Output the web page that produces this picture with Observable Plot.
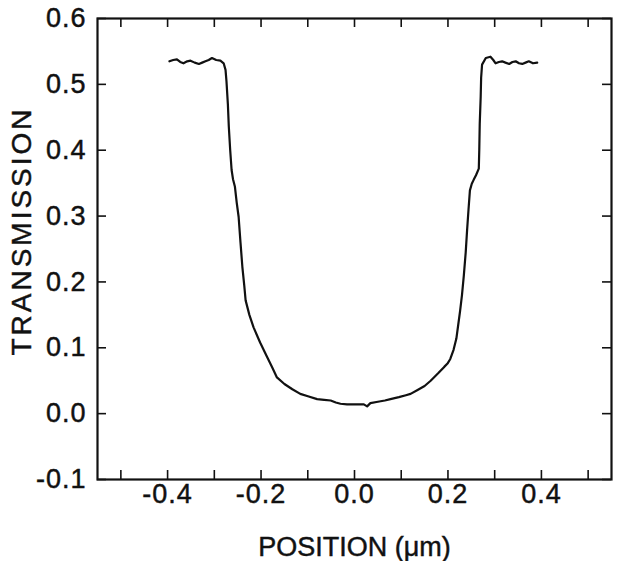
<!DOCTYPE html>
<html>
<head>
<meta charset="utf-8">
<script src="https://cdn.jsdelivr.net/npm/d3@7"></script>
<script src="https://cdn.jsdelivr.net/npm/@observablehq/plot@0.6"></script>
<style>
  html, body { margin: 0; padding: 0; background: #fff; }
  svg text { stroke: #111; stroke-width: 0.45px; }
</style>
</head>
<body>
<div id="chart"></div>
<script>
// Position (µm) and transmission values
const position = [
  -0.396, -0.388, -0.380, -0.373, -0.366, -0.358, -0.351, -0.342, -0.333, -0.326,
  -0.319, -0.312, -0.305, -0.296, -0.287, -0.280, -0.276, -0.274, -0.271, -0.269,
  -0.266, -0.263, -0.260, -0.256, -0.252, -0.248, -0.244, -0.240, -0.236, -0.233,
  -0.225, -0.216, -0.202, -0.187, -0.176, -0.166, -0.150, -0.133, -0.116, -0.098,
  -0.080, -0.065, -0.051, -0.040, -0.030, -0.016, 0.000, 0.010, 0.020, 0.027,
  0.034, 0.050, 0.065, 0.077, 0.095, 0.110, 0.120, 0.135, 0.150, 0.163,
  0.180, 0.192, 0.199, 0.205, 0.212, 0.218, 0.222, 0.226, 0.230, 0.234,
  0.238, 0.241, 0.244, 0.247, 0.251, 0.255, 0.260, 0.266, 0.267, 0.268,
  0.270, 0.271, 0.273, 0.281, 0.291, 0.297, 0.302, 0.309, 0.316, 0.323,
  0.331, 0.338, 0.345, 0.352, 0.359, 0.366, 0.373, 0.382, 0.391
];
const transmission = [
  0.535, 0.537, 0.538, 0.534, 0.532, 0.535, 0.536, 0.533, 0.531, 0.533,
  0.535, 0.537, 0.540, 0.537, 0.536, 0.532, 0.522, 0.505, 0.470, 0.436,
  0.400, 0.370, 0.356, 0.345, 0.320, 0.299, 0.260, 0.223, 0.195, 0.172,
  0.150, 0.131, 0.108, 0.086, 0.070, 0.055, 0.045, 0.037, 0.030, 0.026,
  0.022, 0.021, 0.020, 0.017, 0.015, 0.014, 0.014, 0.014, 0.014, 0.011,
  0.016, 0.018, 0.020, 0.022, 0.025, 0.028, 0.030, 0.036, 0.042, 0.050,
  0.062, 0.071, 0.076, 0.083, 0.097, 0.114, 0.135, 0.156, 0.180, 0.210,
  0.245, 0.279, 0.310, 0.339, 0.349, 0.355, 0.362, 0.372, 0.400, 0.440,
  0.480, 0.510, 0.530, 0.540, 0.542, 0.537, 0.532, 0.534, 0.535, 0.533,
  0.531, 0.534, 0.535, 0.532, 0.531, 0.533, 0.535, 0.532, 0.533
];

// Tick values and labels
const xTicksAll = [-0.5, -0.4, -0.3, -0.2, -0.1, 0.0, 0.1, 0.2, 0.3, 0.4, 0.5];
const xTickLabels = [-0.4, -0.2, 0.0, 0.2, 0.4];
const yTicks = [-0.1, 0.0, 0.1, 0.2, 0.3, 0.4, 0.5, 0.6];
const xDomain = [-0.55, 0.55];
const yDomain = [-0.1, 0.6];
const xTitle = "POSITION (μm)";
const yTitle = "TRANSMISSION";

const data = position.map((p, i) => ({x: p, y: transmission[i]}));

const W = 618, H = 561;
const mL = 97, mR = 7, mT = 18, mB = 82;
const frameW = W - mL - mR, frameH = H - mT - mB;
const tickLen = 9;

const fmt = d => (d < -1e-9 ? "-" : "") + Math.abs(d).toFixed(1);

const chart = Plot.plot({
  width: W,
  height: H,
  marginLeft: mL,
  marginRight: mR,
  marginTop: mT,
  marginBottom: mB,
  style: {
    fontFamily: "'Liberation Sans', Arial, Helvetica, sans-serif",
    fontSize: "27px",
    color: "#111",
    background: "#fff",
    overflow: "visible"
  },
  x: {domain: xDomain},
  y: {domain: yDomain},
  marks: [
    // inward ticks on all four sides
    Plot.tickX(xTicksAll, {x: d => d, stroke: "#111", strokeWidth: 1.6, insetTop: frameH - tickLen}),
    Plot.tickX(xTicksAll, {x: d => d, stroke: "#111", strokeWidth: 1.6, insetBottom: frameH - tickLen}),
    Plot.tickY(yTicks, {y: d => d, stroke: "#111", strokeWidth: 1.6, insetRight: frameW - tickLen}),
    Plot.tickY(yTicks, {y: d => d, stroke: "#111", strokeWidth: 1.6, insetLeft: frameW - tickLen}),
    Plot.frame({stroke: "#111", strokeWidth: 2.2}),
    Plot.axisX(xTickLabels, {
      anchor: "bottom", tickSize: 0, tickPadding: 4, tickFormat: fmt,
      label: xTitle, labelAnchor: "center", labelOffset: 76, labelArrow: "none"
    }),
    Plot.axisY(yTicks, {
      anchor: "left", tickSize: 0, tickPadding: 11, tickFormat: fmt, label: null
    }),
    Plot.text([yTitle], {
      text: d => d, frameAnchor: "left", textAnchor: "middle", lineAnchor: "middle",
      rotate: -90, dx: -75, dy: -18, fontSize: 28, fill: "#111"
    }),
    Plot.line(data, {x: "x", y: "y", stroke: "#111", strokeWidth: 2.2, curve: "linear"})
  ]
});

document.getElementById("chart").append(chart);
// slightly wider lettering like the reference typeface
d3.select(chart).selectAll('[aria-label="y-axis tick label"] text, [aria-label="x-axis tick label"] text').style("letter-spacing", "1px");
d3.select(chart).selectAll('[aria-label="text"] text').style("letter-spacing", "3px");
</script>
</body>
</html>
